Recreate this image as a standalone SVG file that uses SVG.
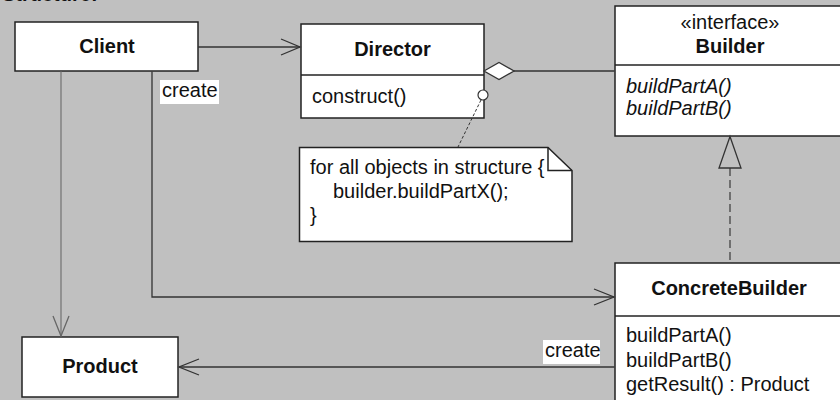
<svg xmlns="http://www.w3.org/2000/svg" width="840" height="400" viewBox="0 0 840 400">
  <style>
    text { font-family: "Liberation Sans", Arial, sans-serif; font-size: 20px; fill: #111; }
    .title { font-weight: bold; text-anchor: middle; }
    .abstract { font-style: italic; }
    .mid { text-anchor: middle; }
    .box { fill: #fff; stroke: #222; stroke-width: 1.5; }
    .div { stroke: #222; stroke-width: 1.5; }
    .conn { fill: none; stroke: #333; stroke-width: 1.3; }
    .head { fill: none; stroke: #333; stroke-width: 1.3; }
    .label-bg { fill: #fff; }
  </style>
  <rect width="840" height="400" fill="#c0c0c0"/>

  <!-- heading, clipped by the top edge -->
  <text x="2" y="0.5" font-weight="bold" font-size="16">Structure:</text>

  <g id="client">
    <rect class="box" x="15" y="22" width="183" height="49"/>
    <text class="title" x="107" y="53">Client</text>
  </g>

  <g id="director">
    <rect class="box" x="301" y="24" width="183" height="94"/>
    <line class="div" x1="301" y1="75" x2="484" y2="75"/>
    <text class="title" x="392.5" y="56">Director</text>
    <text x="312" y="103">construct()</text>
  </g>

  <g id="builder">
    <rect class="box" x="615" y="6" width="232" height="130"/>
    <line class="div" x1="615" y1="65" x2="847" y2="65"/>
    <text class="mid" x="730" y="29">«interface»</text>
    <text class="title" x="730" y="53">Builder</text>
    <text class="abstract" x="626" y="93">buildPartA()</text>
    <text class="abstract" x="626" y="115">buildPartB()</text>
  </g>

  <g id="note">
    <path class="box" d="M299.5 147.5 L548 147.5 L572 170.5 L572 241.5 L299.5 241.5 Z"/>
    <path d="M548 147.5 L548 170.5 L572 170.5" fill="none" stroke="#222" stroke-width="1.5"/>
    <text x="310" y="174">for all objects in structure {</text>
    <text x="333" y="198">builder.buildPartX();</text>
    <text x="310" y="222">}</text>
  </g>

  <g id="concrete-builder">
    <rect class="box" x="615" y="263" width="232" height="145"/>
    <line class="div" x1="615" y1="316" x2="847" y2="316"/>
    <text class="title" x="729" y="295">ConcreteBuilder</text>
    <text x="626" y="342">buildPartA()</text>
    <text x="626" y="367">buildPartB()</text>
    <text x="626" y="391">getResult() : Product</text>
  </g>

  <g id="product">
    <rect class="box" x="22" y="337" width="156" height="60"/>
    <text class="title" x="100" y="373">Product</text>
  </g>

  <g id="connectors">
    <!-- Client -> Director (association) -->
    <path class="conn" d="M198 47 L300 47" stroke="#555"/>
    <path class="head" d="M281 39 L300 47 L281 55"/>
    <!-- Client -> Product -->
    <path class="conn" d="M61 71.5 L61 336" style="stroke:#777"/>
    <path class="head" d="M53 316 L61 336 L69 316" style="stroke:#666"/>
    <!-- Client -> ConcreteBuilder (create) -->
    <path class="conn" d="M152 71.5 L152 297 L614 297"/>
    <path class="head" d="M594 289 L614 297 L594 305"/>
    <!-- ConcreteBuilder -> Product (create) -->
    <path class="conn" d="M614.5 367 L179 367"/>
    <path class="head" d="M199 359 L179 367 L199 375"/>
    <!-- Director <>- Builder (aggregation) -->
    <path class="conn" d="M514 71 L614.5 71"/>
    <path d="M484 71 L499 62.5 L514 71 L499 79.5 Z" fill="#fff" stroke="#333" stroke-width="1.3"/>
    <!-- ConcreteBuilder - - |> Builder (realization) -->
    <path class="conn" d="M730 168 L730 262.5" stroke-dasharray="8 4" style="stroke:#444"/>
    <path d="M730 136.5 L719 168 L741 168 Z" fill="#c0c0c0" stroke="#333" stroke-width="1.3"/>
    <!-- note anchor -->
    <path d="M481 100 L458 147" fill="none" stroke="#333" stroke-width="1" stroke-dasharray="3 2"/>
    <circle cx="483" cy="95" r="5" fill="#fff" stroke="#333" stroke-width="1.2"/>
  </g>

  <g id="create-label-1">
    <rect class="label-bg" x="160" y="80" width="59" height="24"/>
    <text x="162" y="97">create</text>
  </g>

  <g id="create-label-2">
    <rect class="label-bg" x="543" y="340" width="57" height="24"/>
    <text x="545" y="357">create</text>
  </g>
</svg>
